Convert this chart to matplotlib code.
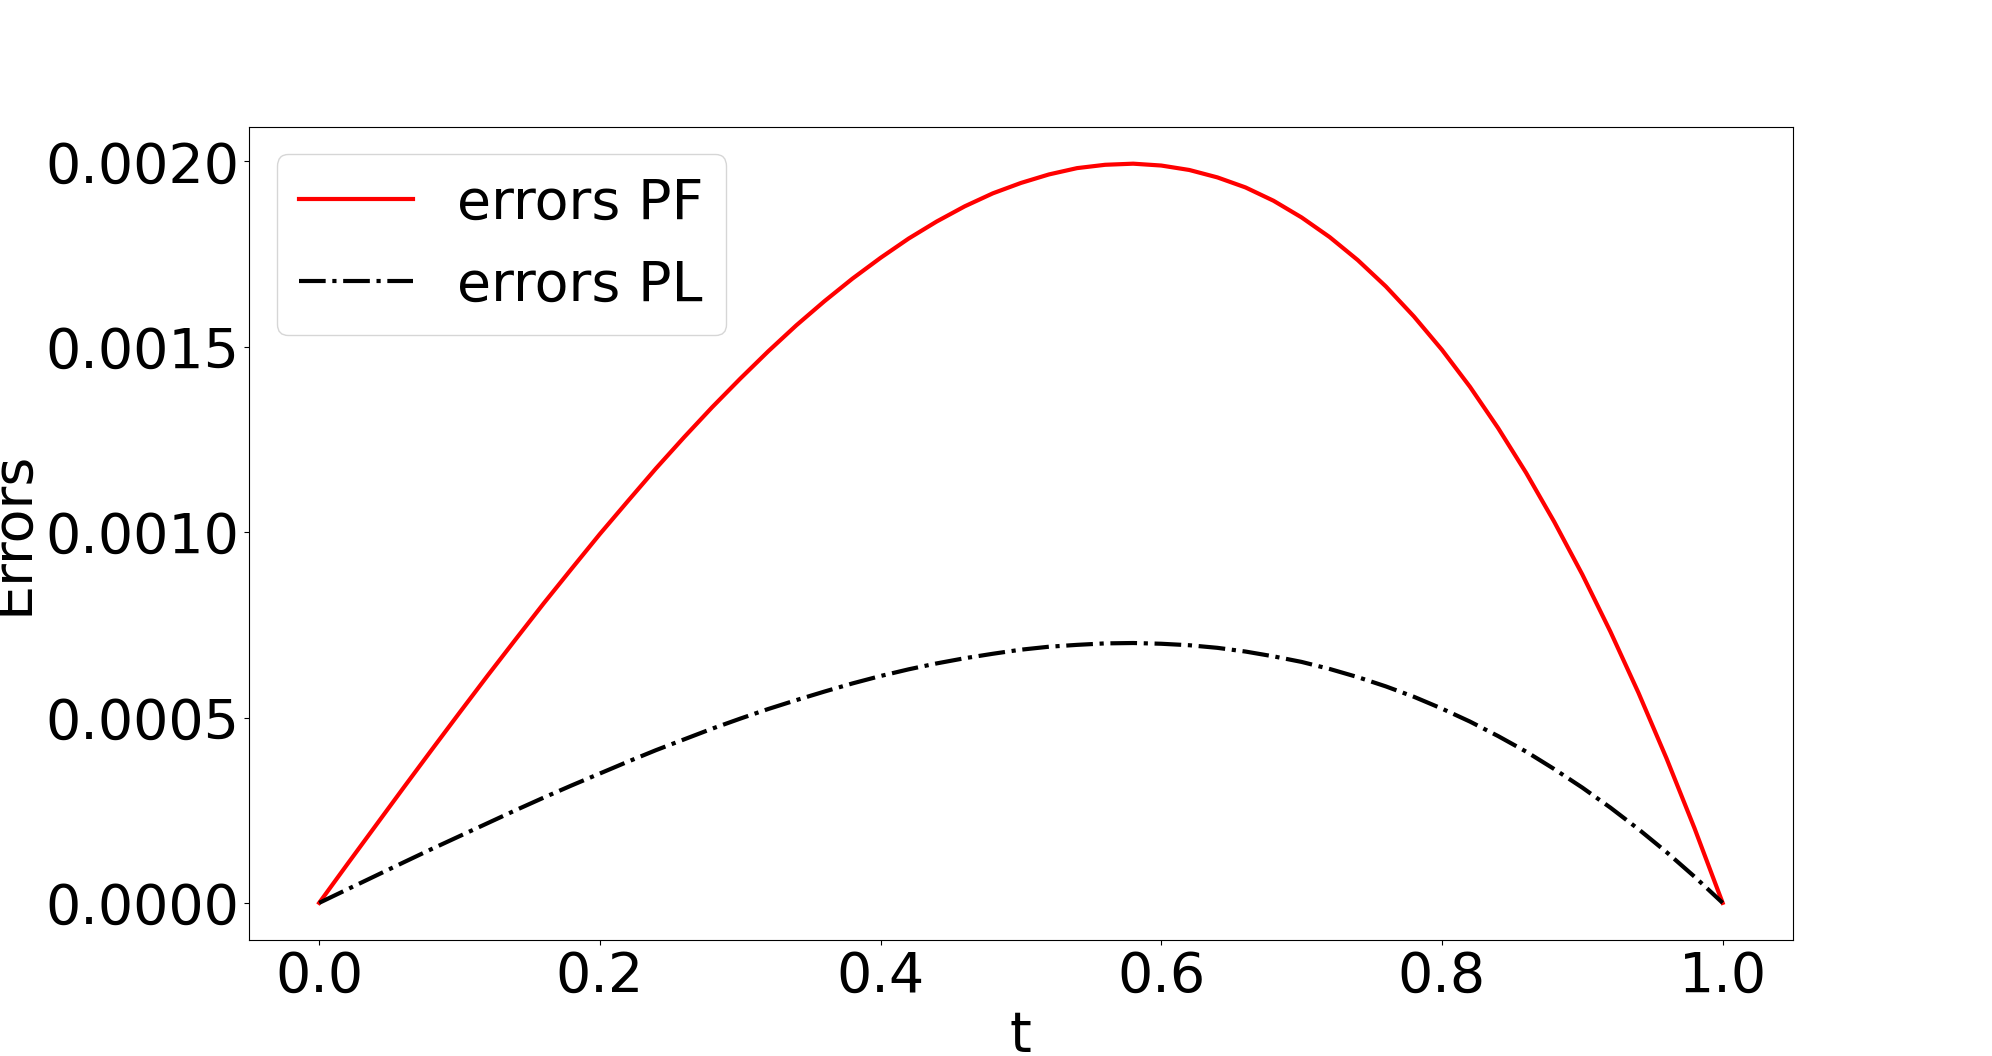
import numpy as np
import matplotlib
matplotlib.use("Agg")
import matplotlib.pyplot as plt

# time grid and error values
t = np.linspace(0.0, 1.0, 51)

errors_pf = [
    0.0, 0.000104, 0.000207, 0.000310, 0.000412, 0.000513, 0.000613, 0.000711,
    0.000808, 0.000902, 0.000995, 0.001084, 0.001172, 0.001256, 0.001337,
    0.001414, 0.001488, 0.001558, 0.001623, 0.001684, 0.001740, 0.001792,
    0.001838, 0.001879, 0.001914, 0.001942, 0.001965, 0.001982, 0.001991,
    0.001994, 0.001989, 0.001977, 0.001957, 0.001930, 0.001894, 0.001849,
    0.001796, 0.001734, 0.001663, 0.001582, 0.001492, 0.001392, 0.001281,
    0.001160, 0.001028, 0.000886, 0.000732, 0.000567, 0.000390, 0.000201, 0.0,
]

errors_pl = [
    0.0, 0.0000364, 0.0000727, 0.000109, 0.000145, 0.000180, 0.000215, 0.000250,
    0.000284, 0.000317, 0.000349, 0.000381, 0.000412, 0.000441, 0.000470,
    0.000497, 0.000523, 0.000547, 0.000570, 0.000592, 0.000612, 0.000630,
    0.000646, 0.000660, 0.000672, 0.000683, 0.000691, 0.000696, 0.000700,
    0.000701, 0.000699, 0.000695, 0.000688, 0.000678, 0.000665, 0.000650,
    0.000631, 0.000609, 0.000584, 0.000556, 0.000524, 0.000489, 0.000450,
    0.000408, 0.000361, 0.000311, 0.000257, 0.000199, 0.000137, 0.0000706, 0.0,
]

FS = 40

fig, ax = plt.subplots(figsize=(19.92, 10.56), dpi=100)

ax.plot(t, errors_pf, color="red", linestyle="-", linewidth=3, label="errors PF")
ax.plot(t, errors_pl, color="black", linestyle="-.", linewidth=3, label="errors PL")

ax.set_xlabel("t", fontsize=FS)
ax.set_ylabel("Errors", fontsize=FS)
ax.tick_params(axis="both", labelsize=FS)
ax.set_yticks([0.0, 0.0005, 0.0010, 0.0015, 0.0020])
ax.set_yticklabels(["0.0000", "0.0005", "0.0010", "0.0015", "0.0020"])

ax.legend(loc="upper left", fontsize=FS, handlelength=2.05)

fig.savefig("out.png", dpi=100)
